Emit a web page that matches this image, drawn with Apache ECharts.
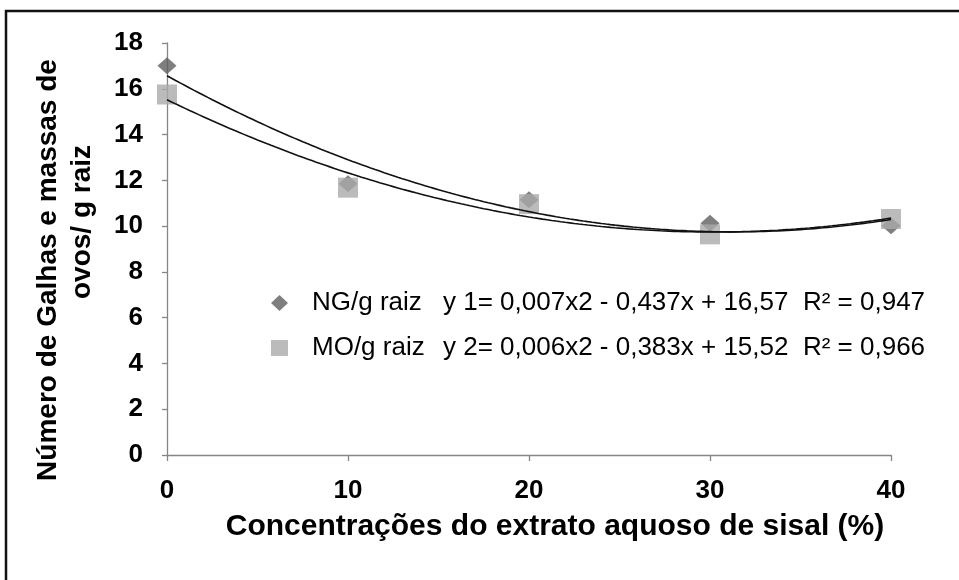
<!DOCTYPE html>
<html>
<head>
<meta charset="utf-8">
<script src="https://cdn.jsdelivr.net/npm/echarts@6/dist/echarts.min.js"></script>
<style>
  html, body { margin: 0; padding: 0; background: #fff; }
  #chart { width: 959px; height: 580px; }
</style>
</head>
<body>
<div id="chart"></div>
<script>
// Concentração do extrato aquoso de sisal (%)
const concentrations = [0, 10, 20, 30, 40];
// Número de galhas por grama de raiz
const galhasPorGrama = [17.01, 11.85, 11.15, 10.12, 10.02];
// Massas de ovos por grama de raiz
const massasPorGrama = [15.75, 11.68, 10.96, 9.64, 10.31];
const seriesNames = ['NG/g raiz', 'MO/g raiz'];
const equationNames = ['y 1=', 'y 2='];
const xTickLabels = ['0', '10', '20', '30', '40'];
const yTickLabels = ['0', '2', '4', '6', '8', '10', '12', '14', '16', '18'];

// Second-order least-squares trend line (as in the spreadsheet trendline)
function quadraticFit(xs, ys) {
  const S = [0, 0, 0, 0, 0];
  const T = [0, 0, 0];
  xs.forEach((x, i) => {
    for (let k = 0; k < 5; k++) S[k] += Math.pow(x, k);
    for (let k = 0; k < 3; k++) T[k] += Math.pow(x, k) * ys[i];
  });
  const M = [[S[0], S[1], S[2], T[0]], [S[1], S[2], S[3], T[1]], [S[2], S[3], S[4], T[2]]];
  for (let c = 0; c < 3; c++) {
    for (let r = c + 1; r < 3; r++) {
      const f = M[r][c] / M[c][c];
      for (let k = c; k < 4; k++) M[r][k] -= f * M[c][k];
    }
  }
  const sol = [0, 0, 0];
  for (let r = 2; r >= 0; r--) {
    let v = M[r][3];
    for (let k = r + 1; k < 3; k++) v -= M[r][k] * sol[k];
    sol[r] = v / M[r][r];
  }
  const [c0, b, a] = sol;
  const f = x => a * x * x + b * x + c0;
  const mean = ys.reduce((s, v) => s + v, 0) / ys.length;
  let ssRes = 0, ssTot = 0;
  xs.forEach((x, i) => { ssRes += Math.pow(ys[i] - f(x), 2); ssTot += Math.pow(ys[i] - mean, 2); });
  return { a, b, c: c0, f, r2: 1 - ssRes / ssTot };
}

const fits = [quadraticFit(concentrations, galhasPorGrama), quadraticFit(concentrations, massasPorGrama)];

const br = (v, d) => v.toFixed(d).replace('.', ',');
const equationText = (fit, name) =>
  name + ' ' + br(fit.a, 3) + 'x2 - ' + br(-fit.b, 3) + 'x + ' + br(fit.c, 2) + '  R² = ' + br(fit.r2, 3);
const equations = {};
seriesNames.forEach((n, i) => { equations[n] = equationText(fits[i], equationNames[i]); });

function curve(fit) {
  const pts = [];
  const x0 = concentrations[0], x1 = concentrations[concentrations.length - 1];
  for (let k = 0; k <= 160; k++) {
    const x = x0 + (x1 - x0) * k / 160;
    pts.push([x, fit.f(x)]);
  }
  return pts;
}

const axisGray = '#868686';
const sans = '"Liberation Sans", Arial, sans-serif';
const chart = echarts.init(document.getElementById('chart'), null, { renderer: 'canvas' });

chart.setOption({
  animation: false,
  backgroundColor: '#ffffff',
  grid: { left: 167, right: 68, top: 43, bottom: 125, containLabel: false },
  xAxis: {
    type: 'value', min: 0, max: 40, interval: 10,
    axisLine: { lineStyle: { color: axisGray, width: 1.3 } },
    axisTick: { length: 6, lineStyle: { color: axisGray, width: 1.3 } },
    splitLine: { show: false },
    axisLabel: {
      margin: 23, color: '#000', fontWeight: 'bold', fontSize: 26, fontFamily: sans,
      formatter: v => xTickLabels[concentrations.indexOf(v)] ?? ''
    },
    name: 'Concentrações do extrato aquoso de sisal (%)',
    nameLocation: 'middle', nameGap: 57,
    nameTextStyle: {
      color: '#000', fontWeight: 'bold', fontSize: 30, fontFamily: sans,
      padding: [0, 0, 0, 52]
    }
  },
  yAxis: {
    type: 'value', min: 0, max: 18, interval: 2,
    axisLine: { show: true, lineStyle: { color: axisGray, width: 1.3 } },
    axisTick: { show: true, length: 5, lineStyle: { color: axisGray, width: 1.3 } },
    splitLine: { show: false },
    axisLabel: {
      margin: 24, color: '#000', fontWeight: 'bold', fontSize: 26, fontFamily: sans,
      formatter: v => yTickLabels[v / 2] ?? ''
    }
  },
  graphic: [
    { type: 'rect', shape: { x: 6, y: 11, width: 1200, height: 1200 },
      style: { fill: 'none', stroke: '#111', lineWidth: 2.5 }, silent: true },
    { type: 'text', x: 48, y: 270, rotation: Math.PI / 2,
      style: { text: 'Número de Galhas e massas de', fill: '#000', font: 'bold 28px ' + sans,
        align: 'center', verticalAlign: 'middle' } },
    { type: 'text', x: 82, y: 222, rotation: Math.PI / 2,
      style: { text: 'ovos/ g raiz', fill: '#000', font: 'bold 28px ' + sans,
        align: 'center', verticalAlign: 'middle' } }
  ],
  legend: {
    orient: 'vertical', left: 266, top: 285, itemGap: 19,
    itemWidth: 17, itemHeight: 16,
    data: [{ name: seriesNames[0], icon: 'diamond' }, { name: seriesNames[1], icon: 'rect' }],
    formatter: name => '{n|' + name + '}{e|' + equations[name] + '}',
    textStyle: {
      rich: {
        n: { fontSize: 26, lineHeight: 30, width: 131, padding: [0, 0, 0, 19], color: '#000', fontFamily: sans },
        e: { fontSize: 26, lineHeight: 30, color: '#000', fontFamily: sans }
      }
    }
  },
  series: [
    { name: seriesNames[0], type: 'scatter', symbol: 'diamond', symbolSize: [19, 17],
      itemStyle: { color: '#5f5f5f' }, z: 2,
      data: concentrations.map((x, i) => [x, galhasPorGrama[i]]) },
    { name: seriesNames[1], type: 'scatter', symbol: 'rect', symbolSize: 20,
      itemStyle: { color: '#aaaaaa' }, z: 3,
      data: concentrations.map((x, i) => [x, massasPorGrama[i]]) },
    { name: 'tendência NG', type: 'line', showSymbol: false, symbol: 'none', z: 4,
      lineStyle: { color: '#111', width: 1.6 }, data: curve(fits[0]) },
    { name: 'tendência MO', type: 'line', showSymbol: false, symbol: 'none', z: 4,
      lineStyle: { color: '#111', width: 1.6 }, data: curve(fits[1]) }
  ]
});
</script>
</body>
</html>
